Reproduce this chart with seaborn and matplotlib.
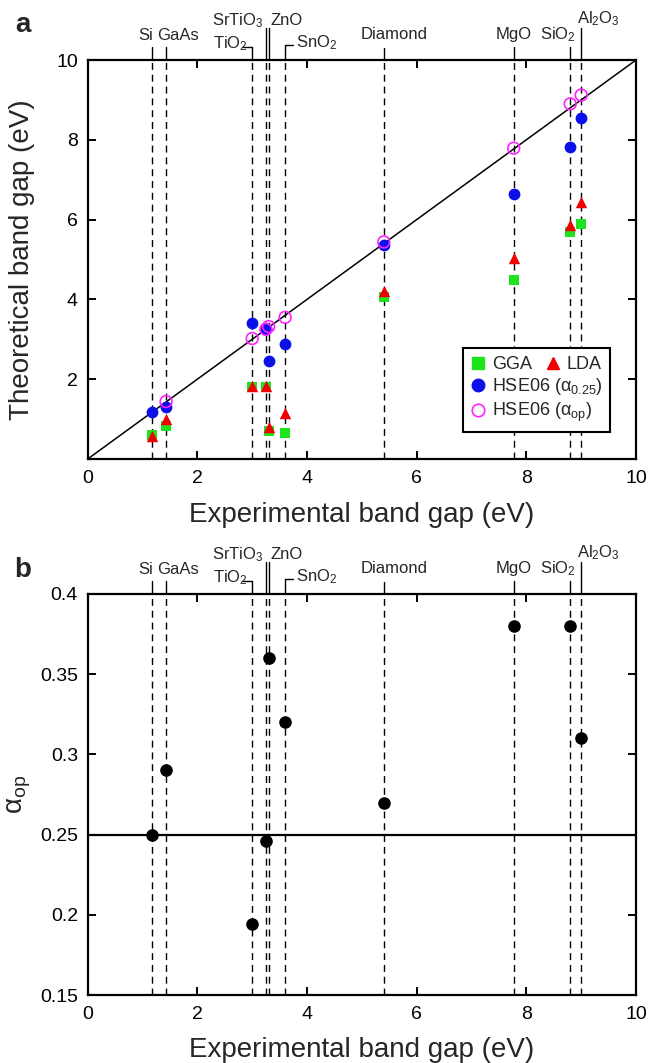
import numpy as np
import pandas as pd
import matplotlib
matplotlib.use("Agg")
import matplotlib.pyplot as plt
import matplotlib.transforms as mtransforms
from matplotlib.lines import Line2D
import seaborn as sns

# ---------------- data ----------------
materials = ["Si", "GaAs", "TiO$_2$", "SrTiO$_3$", "ZnO", "SnO$_2$",
             "Diamond", "MgO", "SiO$_2$", "Al$_2$O$_3$"]
exp_gap = [1.17, 1.43, 3.0, 3.25, 3.3, 3.6, 5.4, 7.77, 8.8, 9.0]
gga = [0.61, 0.82, 1.80, 1.80, 0.71, 0.65, 4.07, 4.48, 5.69, 5.88]
lda = [0.58, 1.00, 1.83, 1.83, 0.80, 1.15, 4.22, 5.04, 5.86, 6.44]
hse_025 = [1.17, 1.30, 3.40, 3.27, 2.46, 2.87, 5.36, 6.63, 7.83, 8.54]
hse_op = [np.nan, 1.44, 3.02, 3.25, 3.32, 3.55, 5.44, 7.79, 8.90, 9.12]
alpha_op = [0.25, 0.29, 0.194, 0.246, 0.36, 0.32, 0.27, 0.38, 0.38, 0.31]

x_ticks = [0, 2, 4, 6, 8, 10]
ya_ticks = [2, 4, 6, 8, 10]
yb_ticks = [0.15, 0.2, 0.25, 0.3, 0.35, 0.4]
yb_ticklabels = ["0.15", "0.2", "0.25", "0.3", "0.35", "0.4"]

df = pd.DataFrame({"material": materials, "exp": exp_gap, "gga": gga,
                   "lda": lda, "hse025": hse_025, "hseop": hse_op,
                   "alpha": alpha_op})

# ---------------- style ----------------
sns.set_style("ticks")
plt.rcParams["font.family"] = ["Liberation Sans", "DejaVu Sans"]
plt.rcParams["mathtext.default"] = "regular"

GREEN = "#1de41d"
RED = "#f00000"
BLUE = "#0b10e8"
MAGENTA = "#ff22ff"

W, H = 652, 1063
fig = plt.figure(figsize=(W / 100, H / 100), dpi=100)
ax_a = fig.add_axes([87.7 / W, 1 - 459 / H, 548.3 / W, 399 / H])
ax_b = fig.add_axes([87.7 / W, 1 - 995 / H, 548.3 / W, 401 / H])

# label layout: (leader height px, bracket px, text dx px, text baseline px, ha)
label_layout = [
    (13, 0, 1, 20, "right"),
    (13, 0, -9, 20, "left"),
    (13, -9, -4, 12, "right"),
    (32, 0, -2, 35, "right"),
    (32, 0, 2, 35, "left"),
    (15, 8, 11, 13, "left"),
    (12, 0, 10, 21, "center"),
    (13, 0, 0, 21, "center"),
    (13, 0, 6, 21, "right"),
    (32, 0, -4, 37, "left"),
]


def style_axes(ax):
    for s in ax.spines.values():
        s.set_linewidth(1.6)
        s.set_color("black")
    ax.tick_params(direction="in", top=True, right=True, length=5.5,
                   width=1.4, labelsize=14, colors="black")
    ax.tick_params(axis="x", pad=8)
    ax.tick_params(axis="y", pad=7)


def add_top_labels(ax):
    pos = ax.get_position()
    ax_h = pos.height * H
    ppu = pos.width * W / 10.0
    trans = mtransforms.blended_transform_factory(ax.transData, ax.transAxes)
    for name, xv, (lh, br, dx, base, ha) in zip(materials, exp_gap, label_layout):
        ytop = 1 + lh / ax_h
        ax.plot([xv, xv], [1, ytop], color="black", lw=1.0, transform=trans,
                clip_on=False)
        if br != 0:
            ax.plot([xv, xv + br / ppu], [ytop, ytop], color="black", lw=1.0,
                    transform=trans, clip_on=False)
        ax.annotate(name, xy=(xv, 1), xycoords=trans, xytext=(dx, base),
                    textcoords="offset pixels", ha=ha, va="baseline",
                    fontsize=12, annotation_clip=False)


def add_vlines(ax):
    for xv in exp_gap:
        ax.axvline(xv, color="black", lw=1.0, ls=(0, (5, 3.5)), zorder=1)


# ---------------- panel a ----------------
ax = ax_a
add_vlines(ax)
ax.axline((0, 0), slope=1, color="black", lw=1.1, zorder=2)
sns.scatterplot(data=df, x="exp", y="gga", marker="s", s=60, color=GREEN,
                linewidth=0, ax=ax, zorder=3, legend=False)
sns.scatterplot(data=df, x="exp", y="lda", marker="^", s=68, color=RED,
                linewidth=0, ax=ax, zorder=4, legend=False)
sns.scatterplot(data=df, x="exp", y="hse025", marker="o", s=72, color=BLUE,
                linewidth=0, ax=ax, zorder=5, legend=False)
sns.scatterplot(data=df, x="exp", y="hseop", marker="o", s=72,
                facecolors="none", edgecolor=MAGENTA, linewidth=1.2,
                ax=ax, zorder=6, legend=False)
ax.set_xlim(0, 10)
ax.set_ylim(0, 10)
ax.set_xticks(x_ticks)
ax.set_yticks(ya_ticks)
ax.set_xlabel("Experimental band gap (eV)", fontsize=20, va="top")
ax.set_ylabel("Theoretical band gap (eV)", fontsize=20, va="center")
ax.xaxis.set_label_coords(0.5, -0.108)
ax.yaxis.set_label_coords(-0.12, 0.5)
style_axes(ax)
add_top_labels(ax)

h_gga = Line2D([], [], marker="s", ls="", color=GREEN, markersize=8)
h_lda = Line2D([], [], marker="^", ls="", color=RED, markersize=9)
h_b = Line2D([], [], marker="o", ls="", color=BLUE, markersize=9)
h_m = Line2D([], [], marker="o", ls="", markerfacecolor="none",
             markeredgecolor=MAGENTA, markeredgewidth=1.2, markersize=9)
leg1 = ax.legend([h_gga, h_b, h_m],
                 ["GGA", "HSE06 (α$_{0.25}$)", "HSE06 (α$_{op}$)"],
                 loc="upper left", bbox_to_anchor=(0.684, 0.278),
                 borderaxespad=0, borderpad=0.45, handlelength=0.8,
                 handletextpad=0.35, labelspacing=0.18, fontsize=13,
                 fancybox=False, framealpha=1, edgecolor="black")
leg1.get_frame().set_linewidth(1.5)
leg1.set_zorder(10)
ax.add_artist(leg1)
leg2 = ax.legend([h_lda], ["LDA"], loc="center left",
                 bbox_to_anchor=(0.835, 0.2356), borderaxespad=0,
                 borderpad=0, handlelength=0.8, handletextpad=0.35,
                 fontsize=13, frameon=False)
leg2.set_zorder(11)

# ---------------- panel b ----------------
ax = ax_b
add_vlines(ax)
ax.axhline(0.25, color="black", lw=1.6, zorder=2)
sns.scatterplot(data=df, x="exp", y="alpha", marker="o", s=82, color="black",
                linewidth=0, ax=ax, zorder=4, legend=False)
ax.set_xlim(0, 10)
ax.set_ylim(0.15, 0.4)
ax.set_xticks(x_ticks)
ax.set_yticks(yb_ticks)
ax.set_yticklabels(yb_ticklabels)
ax.set_xlabel("Experimental band gap (eV)", fontsize=20, va="top")
ax.set_ylabel("α$_{op}$", fontsize=20, va="center")
ax.xaxis.set_label_coords(0.5, -0.104)
ax.yaxis.set_label_coords(-0.125, 0.5)
style_axes(ax)
add_top_labels(ax)

fig.text(23 / W, 1 - 25 / H, "a", fontsize=20, fontweight="bold",
         ha="center", va="center")
fig.text(23 / W, 1 - 570 / H, "b", fontsize=20, fontweight="bold",
         ha="center", va="center")

fig.savefig("out.png", dpi=100)
